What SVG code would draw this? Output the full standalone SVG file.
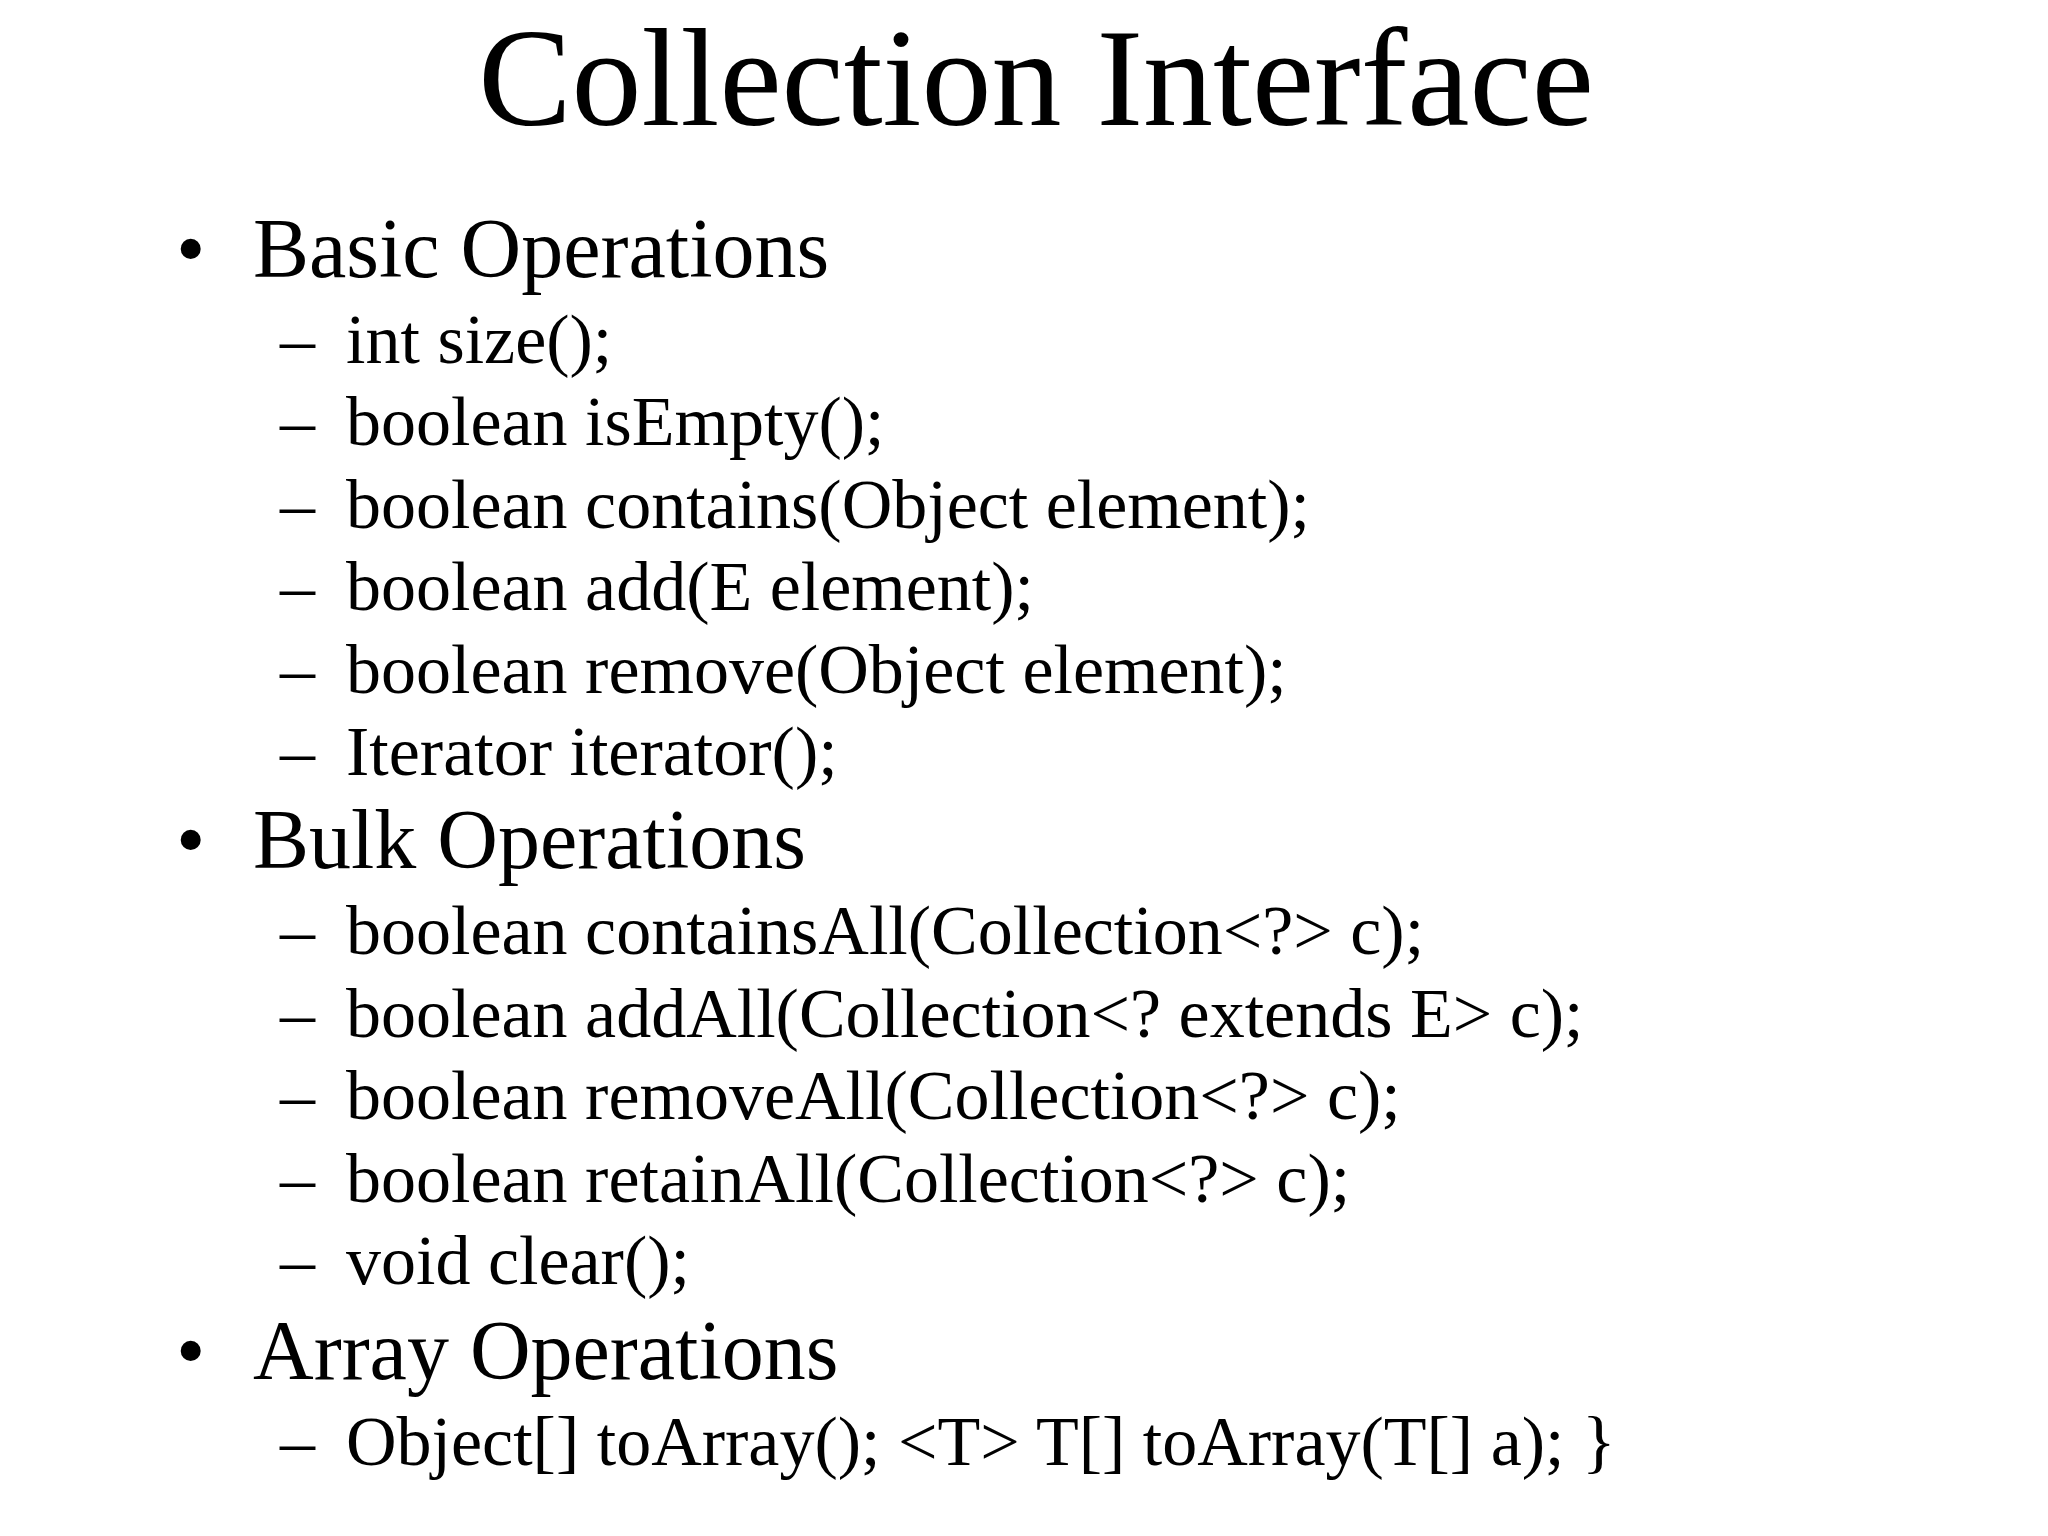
<svg xmlns="http://www.w3.org/2000/svg" width="2048" height="1536" viewBox="0 0 2048 1536">
<style>
text{font-family:"Liberation Serif","Times New Roman",serif;fill:#000}
.t{font-size:140px}
.b{font-size:84px}
.s{font-size:70px}
</style>
<rect width="2048" height="1536" fill="#fff"/>
<text class="t" x="1036" y="125" text-anchor="middle">Collection Interface</text>
<g class="b">
<text class="b" x="176" y="277">•</text><text class="b" x="253" y="277">Basic Operations</text>
<text class="b" x="176" y="868">•</text><text class="b" x="253" y="868">Bulk Operations</text>
<text class="b" x="176" y="1379">•</text><text class="b" x="253" y="1379">Array Operations</text>
</g>
<g class="s">
<text class="s" x="280" y="363">–</text><text class="s" x="346" y="363">int size();</text>
<text class="s" x="280" y="445">–</text><text class="s" x="346" y="445">boolean isEmpty();</text>
<text class="s" x="280" y="528">–</text><text class="s" x="346" y="528">boolean contains(Object element);</text>
<text class="s" x="280" y="610">–</text><text class="s" x="346" y="610">boolean add(E element);</text>
<text class="s" x="280" y="693">–</text><text class="s" x="346" y="693">boolean remove(Object element);</text>
<text class="s" x="280" y="775">–</text><text class="s" x="346" y="775">Iterator iterator();</text>
<text class="s" x="280" y="954">–</text><text class="s" x="346" y="954">boolean containsAll(Collection&lt;?&gt; c);</text>
<text class="s" x="280" y="1037">–</text><text class="s" x="346" y="1037">boolean addAll(Collection&lt;? extends E&gt; c);</text>
<text class="s" x="280" y="1119">–</text><text class="s" x="346" y="1119">boolean removeAll(Collection&lt;?&gt; c);</text>
<text class="s" x="280" y="1202">–</text><text class="s" x="346" y="1202">boolean retainAll(Collection&lt;?&gt; c);</text>
<text class="s" x="280" y="1284">–</text><text class="s" x="346" y="1284">void clear();</text>
<text class="s" x="280" y="1465">–</text><text class="s" x="346" y="1465">Object[] toArray(); &lt;T&gt; T[] toArray(T[] a); }</text>
</g>
</svg>
